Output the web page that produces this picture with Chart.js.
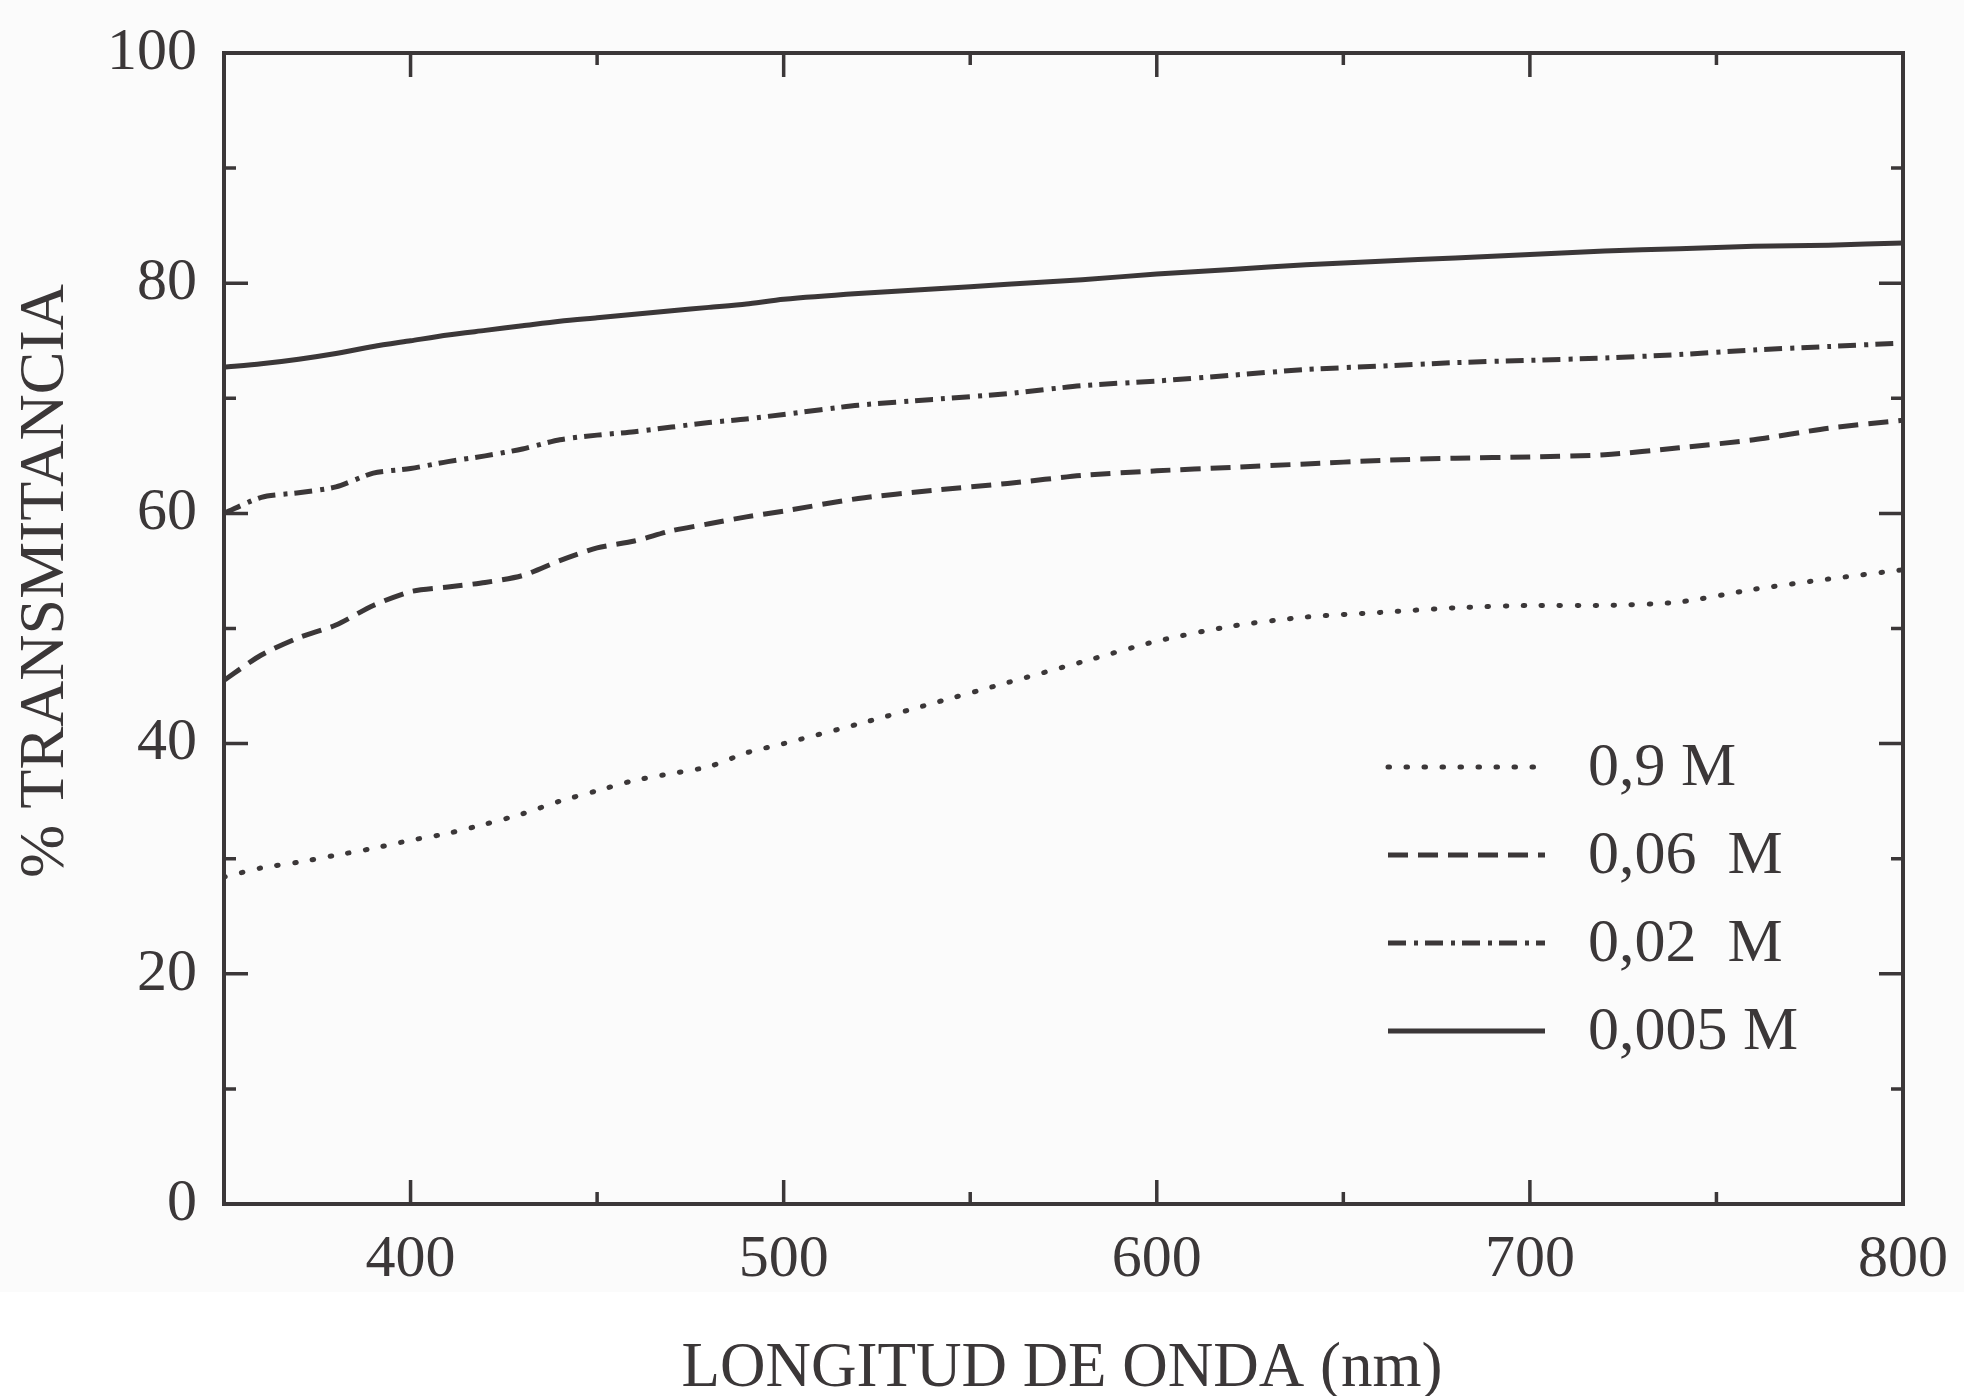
<!DOCTYPE html>
<html>
<head>
<meta charset="utf-8">
<title>Transmitancia</title>
<script src="https://cdn.jsdelivr.net/npm/chart.js@4.4.1/dist/chart.umd.min.js"></script>
<style>
  html, body { margin: 0; padding: 0; background: #fbfbfb; }
  #wrap { width: 1964px; height: 1396px; }
</style>
</head>
<body>
<div id="wrap"><canvas id="chart" width="1964" height="1396"></canvas></div>
<script>
// wavelength (nm) and % transmittance for each concentration
const wavelengths = [350, 360, 370, 380, 390, 400, 410, 420, 430, 440, 450, 460, 470, 480, 490, 500,
                     520, 540, 560, 580, 600, 620, 640, 660, 680, 700, 720, 740, 760, 780, 800];
const t09   = [28.4, 29.2, 29.7, 30.3, 30.9, 31.6, 32.2, 33.0, 33.9, 35.0, 35.9, 36.8, 37.4, 38.0, 39.2, 40.0,
               41.7, 43.5, 45.3, 47.1, 48.9, 50.2, 51.0, 51.4, 51.8, 52.0, 52.0, 52.3, 53.4, 54.3, 55.1];
const t006  = [45.5, 47.7, 49.2, 50.3, 52.0, 53.2, 53.6, 54.0, 54.6, 55.9, 57.0, 57.6, 58.5, 59.1, 59.7, 60.2,
               61.3, 62.0, 62.6, 63.3, 63.7, 64.0, 64.3, 64.6, 64.8, 64.9, 65.1, 65.7, 66.4, 67.4, 68.1];
const t002  = [60.0, 61.4, 61.8, 62.3, 63.5, 63.9, 64.5, 65.0, 65.6, 66.4, 66.8, 67.1, 67.5, 67.9, 68.2, 68.6,
               69.4, 69.9, 70.4, 71.1, 71.5, 72.0, 72.5, 72.8, 73.1, 73.3, 73.5, 73.8, 74.2, 74.5, 74.8];
const t0005 = [72.7, 73.0, 73.4, 73.9, 74.5, 75.0, 75.5, 75.9, 76.3, 76.7, 77.0, 77.3, 77.6, 77.9, 78.2, 78.6,
               79.1, 79.5, 79.9, 80.3, 80.8, 81.2, 81.6, 81.9, 82.2, 82.5, 82.8, 83.0, 83.2, 83.3, 83.5];

const seriesLabels = ['0,9 M', '0,06  M', '0,02  M', '0,005 M'];
const xTicks = [400, 500, 600, 700, 800];
const yTicks = [0, 20, 40, 60, 80, 100];

const INK = '#3b3738';
const SERIF = '"Liberation Serif", "Times New Roman", serif';

function points(values) {
    return wavelengths.map((w, i) => ({ x: w, y: values[i] }));
}

function lineStyle(label, values, dash, cap) {
    return {
        label: label,
        data: points(values),
        borderColor: INK,
        borderWidth: 5,
        borderDash: dash,
        borderCapStyle: cap,
        pointRadius: 0,
        tension: 0.25,
        fill: false
    };
}

// page tone, slightly grey above the caption strip
const backdrop = {
    id: 'backdrop',
    beforeDraw(chart) {
        const c = chart.ctx;
        c.save();
        c.fillStyle = '#fbfbfb';
        c.fillRect(0, 0, chart.width, chart.height);
        c.fillStyle = '#ffffff';
        c.fillRect(0, 1292, chart.width, chart.height - 1292);
        c.restore();
    }
};

// closed frame with inward ticks on all four sides
const frame = {
    id: 'frame',
    afterDatasetsDraw(chart) {
        const c = chart.ctx;
        const a = chart.chartArea;
        const xs = chart.scales.x;
        const ys = chart.scales.y;
        c.save();
        c.strokeStyle = INK;
        c.lineWidth = 4;
        c.lineCap = 'square';
        c.strokeRect(a.left, a.top, a.right - a.left, a.bottom - a.top);

        c.lineWidth = 3.5;
        c.lineCap = 'butt';
        for (let v = 400; v < 800; v += 50) {
            const px = xs.getPixelForValue(v);
            const len = v % 100 === 0 ? 24 : 12;
            c.beginPath();
            c.moveTo(px, a.bottom); c.lineTo(px, a.bottom - len);
            c.moveTo(px, a.top); c.lineTo(px, a.top + len);
            c.stroke();
        }
        for (let v = 10; v < 100; v += 10) {
            const py = ys.getPixelForValue(v);
            const len = v % 20 === 0 ? 24 : 12;
            c.beginPath();
            c.moveTo(a.left, py); c.lineTo(a.left + len, py);
            c.moveTo(a.right, py); c.lineTo(a.right - len, py);
            c.stroke();
        }
        c.restore();
    }
};

// axis titles
const titles = {
    id: 'titles',
    afterDraw(chart) {
        const c = chart.ctx;
        c.save();
        c.fillStyle = INK;
        c.font = '63px ' + SERIF;
        c.textAlign = 'center';
        c.textBaseline = 'middle';
        c.fillText('LONGITUD DE ONDA (nm)', 1062, 1369);
        c.translate(46, 581);
        c.rotate(-Math.PI / 2);
        c.font = '64px ' + SERIF;
        c.fillText('% TRANSMITANCIA', 0, 0);
        c.restore();
    }
};

// legend inside the plot, lower right
const innerLegend = {
    id: 'innerLegend',
    afterDraw(chart, args, opts) {
        const c = chart.ctx;
        c.save();
        chart.data.datasets.forEach((ds, i) => {
            const y = opts.top + i * opts.step;
            c.strokeStyle = ds.borderColor;
            c.lineWidth = ds.borderWidth;
            c.lineCap = ds.borderCapStyle;
            c.setLineDash(ds.borderDash);
            c.beginPath();
            c.moveTo(opts.lineStart, y);
            c.lineTo(opts.lineEnd, y);
            c.stroke();
            c.setLineDash([]);
            c.fillStyle = INK;
            c.font = '62px ' + SERIF;
            c.textAlign = 'left';
            c.textBaseline = 'middle';
            c.fillText(ds.label, opts.textX, y + 2);
        });
        c.restore();
    }
};

const ctx = document.getElementById('chart').getContext('2d');
const chart = new Chart(ctx, {
    type: 'line',
    data: {
        datasets: [
            lineStyle(seriesLabels[0], t09, [1.5, 16.5], 'round'),
            lineStyle(seriesLabels[1], t006, [20, 10], 'butt'),
            lineStyle(seriesLabels[2], t002, [18, 8, 4, 7], 'butt'),
            lineStyle(seriesLabels[3], t0005, [], 'butt')
        ]
    },
    options: {
        responsive: false,
        animation: false,
        layout: { padding: { top: 53, right: 61, bottom: 0, left: 0 } },
        plugins: {
            legend: { display: false },
            tooltip: { enabled: false },
            innerLegend: { top: 767, step: 88, lineStart: 1388, lineEnd: 1545, textX: 1588 }
        },
        scales: {
            x: {
                type: 'linear',
                min: 350,
                max: 800,
                grid: { display: false, drawTicks: false },
                border: { display: false },
                afterBuildTicks: s => { s.ticks = xTicks.map(v => ({ value: v })); },
                // fixed band height, labels allowed to overhang the plot edges
                afterFit: s => { s.height = 192; s.paddingLeft = 0; s.paddingRight = 0; },
                ticks: {
                    color: INK,
                    padding: 20,
                    maxRotation: 0,
                    font: { family: SERIF, size: 60 }
                }
            },
            y: {
                min: 0,
                max: 100,
                grid: { display: false, drawTicks: false },
                border: { display: false },
                afterBuildTicks: s => { s.ticks = yTicks.map(v => ({ value: v })); },
                afterFit: s => { s.width = 224; s.paddingTop = 0; s.paddingBottom = 0; },
                ticks: {
                    color: INK,
                    padding: 27,
                    font: { family: SERIF, size: 60 }
                }
            }
        }
    },
    plugins: [backdrop, frame, titles, innerLegend]
});
</script>
</body>
</html>
